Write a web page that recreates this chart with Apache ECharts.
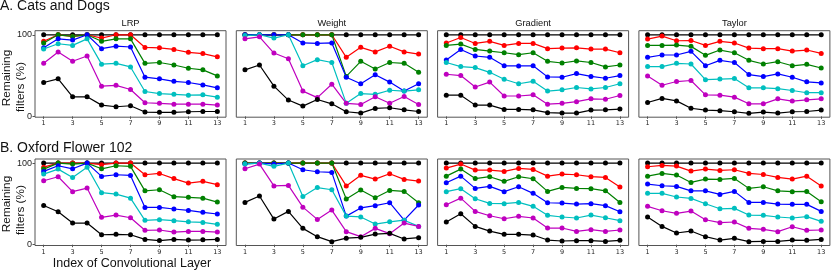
<!DOCTYPE html>
<html><head><meta charset="utf-8">
<script src="https://cdn.jsdelivr.net/npm/echarts@6/dist/echarts.min.js"></script>
<style>html,body{margin:0;padding:0;background:#fff}#c{width:831px;height:273px}</style>
</head><body><div id="c"></div>
<script>
const layers = [1,2,3,4,5,6,7,8,9,10,11,12,13];
const xTicks = [1,3,5,7,9,11,13];
const yTicks = [0,100];
const methods = ['LRP','Weight','Gradient','Taylor'];
const rowTitles = ['A. Cats and Dogs','B. Oxford Flower 102'];
const seriesColors = ['#000000','#ff0000','#008000','#0000ff','#00bfbf','#bf00bf','#000000'];
const full = [100,100,100,100,100,100,100,100,100,100,100,100,100];

// rows: red, green, blue, cyan, magenta, black(low)
const catsLRP = [
  [92,100,98,100,96,100,100,84.5,84,82,78.5,77,73],
  [90,100,98,100,92,95,95,65,66,63,59,57,49.6],
  [84,95,93.5,100,83,86,85,48,46,43,41.5,38.6,35],
  [82.5,89,87,95,64,65,60.6,30.5,28,27,26,26.4,23.6],
  [65,79,67.5,74,37,38,33,16.7,16,15,15,15,13.8],
  [41.5,46,24,24,13.8,11.8,13,5.3,5,5,5.7,6,6]
];
const catsWeight = [
  [100,100,100,100,100,100,100,72.4,84.6,79,86,79,76.4],
  [100,100,100,100,100,100,100,49,67.5,58,66,65,54],
  [100,100,100,100,90,89.4,90,48,40,51,42,31,40],
  [99,100,96,100,62,69.5,66,16,28,27,32,31,32.5],
  [95,97.5,77.6,70.7,31,23,39.4,16,14.6,24,16,24.4,14.6],
  [57,63,37,20,12.6,20.7,15.4,5.7,4,9.8,10.6,8,6]
];
const catsGradient = [
  [90,96.7,89.4,92,87,89.4,89.4,83,83.7,84,82.5,82.5,78],
  [87,88.6,82,80,78,75.6,78,67.5,65.4,68,66,60.6,63],
  [69,82,74,72.4,62,61.8,62,48.4,48,52.4,49,46.7,50],
  [66,61,59.8,54,45.5,40,43,31,32.5,35.4,33.7,35.4,40],
  [51.6,50,36,42,25,25,26.4,15,16,18,21.5,21,25.6],
  [26,26,13.8,13.8,8.5,8.5,8,4.5,4,4,7.7,8,9]
];
const catsTaylor = [
  [94.7,98.4,92.7,93,87,92,90,83.7,83,83,80,81.3,77.2],
  [87,87,87.4,85.8,74.8,81.3,78,68.7,64.2,67,62,63.8,59.3],
  [72.4,75.2,75.2,79.7,62,68.7,66,51.2,48.8,52,48,42.3,41],
  [61,61,65,64.2,45,45.7,46.3,35,35,34,31.7,29,29],
  [49.6,38.2,42.7,44,26.4,26,23.6,15.4,15.4,21.5,18.7,20.3,21.5],
  [17,22,19,10,7.7,7,5.7,3.7,5.3,4,5.7,6,7.7]
];
const flowerLRP = [
  [95,100,100,100,98,100,100,85.7,87.3,81,75.5,77.6,73.5],
  [92.6,100,98.8,100,93,96.7,96,66,67.3,58.8,58,57,52.2],
  [89.8,96.7,93,100,83.7,85.7,84.9,45.7,45.7,43.7,42,39.6,37.6],
  [86.5,92.6,82.4,95,63.7,62,57,29.8,30.6,29.4,28,27.3,25],
  [78.4,83.3,65,69.4,33.5,36.3,33,17.6,18,15.5,16.3,16.3,15.5],
  [48,40.4,26.5,26.5,12.2,12.7,12.2,6.5,5,6.5,5.7,6,6.5]
];
const flowerWeight = [
  [100,100,100,100,100,100,100,72,85,80.4,87,80,78],
  [100,100,100,100,100,100,100,56,67,57.6,66.5,65.3,51.4],
  [99,100,99,100,91.8,89.4,88.6,35,45,47.8,51.4,30,48.6],
  [99,100,96,100,59,70,67.3,35,34,25.3,28,30,22.4],
  [93,98.8,72,72.6,46,31,42.4,16,9.8,20,13.5,26.5,22.4],
  [51.8,59.6,31.4,40.8,20,9.8,3.7,8,9,13,13.9,7,8.6]
];
const flowerGradient = [
  [93.9,98.8,91.4,91.4,89.8,93.5,92.2,84,86.5,85.7,83.3,82.4,70.6],
  [84,92.6,81,83.3,77.6,83.3,80.8,65.3,70.2,69,68.6,66,51.8],
  [75.9,84,69,71.4,65,71,62.9,51.4,51,49.8,50.2,47.8,40.4],
  [65,68.6,56.3,50.6,50.2,51.8,47,36,33.9,32.7,36.3,33,29.4],
  [49,57,40.8,35.5,31.8,34.7,32.7,20.4,20.4,16.3,18.4,16.3,18],
  [27.8,38,22.4,16.7,12.7,12.7,11.8,5.7,4.5,4.9,4.9,4,5.3]
];
const flowerTaylor = [
  [95.5,97.1,96.3,90.2,92.6,91,91.8,87.3,86,82.4,80.4,84,71.8],
  [84,87.3,85.3,76.3,80.4,80,81.2,69,71,66,65,65.3,52.7],
  [74.3,72.2,71.4,66,66,61.6,65.3,51.8,51.8,49.8,49.4,49.4,40.8],
  [62.9,62.9,58.4,56.7,50.2,44,44.5,36.3,36,33.9,32.7,34.3,28.6],
  [47,41.6,38.4,41.2,30.6,27,27.8,20,18.8,16,22,17.6,18],
  [33.9,22.4,14.3,16.7,9.8,5.7,7.8,3.7,4,4,5.7,5.3,6.5]
];

const panels = [
  [catsLRP, catsWeight, catsGradient, catsTaylor],
  [flowerLRP, flowerWeight, flowerGradient, flowerTaylor]
];

const gridLefts = [35, 236.3, 437.6, 638.9];
const gridWidth = 191;
const gridTops = [30.7, 159];
const gridHeight = 86.5;

const grids = [], xAxes = [], yAxes = [], series = [], graphics = [];
let gi = 0;
for (let r = 0; r < 2; r++) {
  for (let c = 0; c < 4; c++) {
    grids.push({left: gridLefts[c], top: gridTops[r], width: gridWidth, height: gridHeight,
      show: true, borderColor: '#555', borderWidth: 1, backgroundColor: 'transparent'});
    xAxes.push({type: 'value', gridIndex: gi, min: 0.4, max: 13.6,
      axisLine: {show: false}, splitLine: {show: false},
      axisTick: {show: true, customValues: xTicks, length: 2.5, lineStyle: {color: '#555'}},
      axisLabel: {show: true, customValues: xTicks, fontSize: 6.5, fontFamily: 'DejaVu Sans', color: '#222', margin: 3}
    });
    yAxes.push({type: 'value', gridIndex: gi, min: -1, max: 105,
      axisLine: {show: false}, splitLine: {show: false},
      axisTick: {show: c === 0, customValues: yTicks, length: 2.5, lineStyle: {color: '#555'}},
      axisLabel: {show: c === 0, customValues: yTicks, fontSize: 9, fontFamily: 'Liberation Sans', color: '#222', margin: 3}
    });
    const rows = [full].concat(panels[r][c]);
    rows.forEach((vals, k) => {
      series.push({type: 'line', xAxisIndex: gi, yAxisIndex: gi,
        data: layers.map((x, i) => [x, vals[i]]),
        symbol: 'circle', symbolSize: 5, showSymbol: true,
        lineStyle: {color: seriesColors[k], width: 1.2},
        itemStyle: {color: seriesColors[k]},
        silent: true, animation: false});
    });
    if (r === 0) {
      graphics.push({type: 'text', x: gridLefts[c] + gridWidth / 2, y: 23.5,
        style: {text: methods[c], fill: '#111', font: '9.3px "Liberation Sans"', align: 'center', verticalAlign: 'middle'}});
    }
    gi++;
  }
}
graphics.push({type: 'text', x: 0, y: 6.5,
  style: {text: rowTitles[0], fill: '#111', font: '14px "Liberation Sans"', align: 'left', verticalAlign: 'middle'}});
graphics.push({type: 'text', x: 0, y: 147.7,
  style: {text: rowTitles[1], fill: '#111', font: '14px "Liberation Sans"', align: 'left', verticalAlign: 'middle'}});
const ylabY = [[78, 87], [204, 210]];
for (let r = 0; r < 2; r++) {
  graphics.push({type: 'text', x: 7, y: ylabY[r][0], rotation: Math.PI / 2,
    style: {text: 'Remaining', fill: '#111', font: '11.8px "Liberation Sans"', align: 'center', verticalAlign: 'middle'}});
  graphics.push({type: 'text', x: 21, y: ylabY[r][1], rotation: Math.PI / 2,
    style: {text: 'filters (%)', fill: '#111', font: '11.8px "Liberation Sans"', align: 'center', verticalAlign: 'middle'}});
}
graphics.push({type: 'text', x: 132, y: 263.5,
  style: {text: 'Index of Convolutional Layer', fill: '#111', font: '12.5px "Liberation Sans"', align: 'center', verticalAlign: 'middle'}});

const chart = echarts.init(document.getElementById('c'), null, {renderer: 'canvas'});
chart.setOption({animation: false, grid: grids, xAxis: xAxes, yAxis: yAxes, series: series, graphic: graphics});
</script></body></html>
